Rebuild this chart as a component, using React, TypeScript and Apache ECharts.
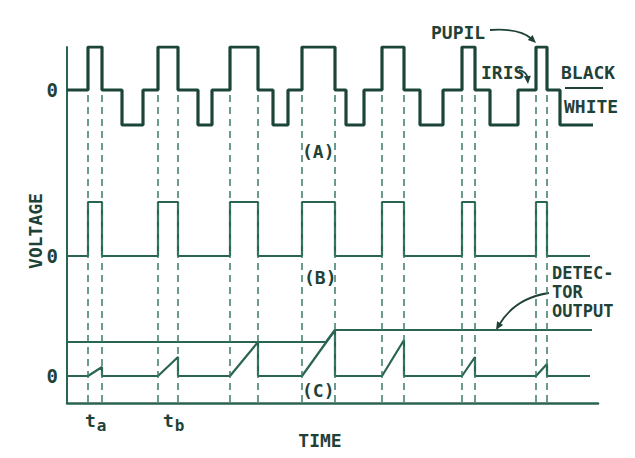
import React, { useEffect, useRef } from "react";
import * as echarts from "echarts";

// ---- data (time in arbitrary units, voltage in arbitrary units relative to each trace's zero) ----
const pulseStart = [21, 91, 163, 235, 315, 395, 469];
const pulseEnd = [35, 111, 191, 268, 337, 408, 480];
const whiteStart = [55, 131, 206, 279, 353, 423, 493];
const whiteEnd = [76, 145, 221, 297, 376, 451, 526];
const blackLevelA = 43;
const whiteLevelA = -35;
const traceEndA = 526;
const pulseLevelB = 54;
const traceEndB = 523;
const rampPeakC = [9, 19, 34, 46, 36, 19, 12];
const traceEndC = 523;
const detectorTimes = [0, 259, 268, 525];
const detectorValues = [34, 34, 46, 46];
const zeroTickLabels = ["0", "0", "0"];

// ---- layout ----
const W = 635;
const H = 458;
const baseA = 313;
const baseB = 147;
const baseC = 27;
const yMax = 356;
const xMax = 531;
const INK = "#1f4238";
const LINE = "#2a6453";
const FONT = "DejaVu Sans Mono";

function buildA() {
  const events: { t: number; v: number; end: number }[] = [];
  pulseStart.forEach((s, i) => events.push({ t: s, v: blackLevelA, end: pulseEnd[i] }));
  whiteStart.forEach((s, i) => events.push({ t: s, v: whiteLevelA, end: whiteEnd[i] }));
  events.sort((a, b) => a.t - b.t);
  const pts: number[][] = [[0, baseA]];
  events.forEach((e) => {
    pts.push([e.t, baseA]);
    pts.push([e.t, baseA + e.v]);
    pts.push([e.end, baseA + e.v]);
    if (e.end < traceEndA) pts.push([e.end, baseA]);
  });
  return pts;
}

function buildB() {
  const pts: number[][] = [[0, baseB]];
  pulseStart.forEach((s, i) => {
    pts.push([s, baseB], [s, baseB + pulseLevelB], [pulseEnd[i], baseB + pulseLevelB], [pulseEnd[i], baseB]);
  });
  pts.push([traceEndB, baseB]);
  return pts;
}

function buildC() {
  const pts: number[][] = [[0, baseC]];
  pulseStart.forEach((s, i) => {
    pts.push([s, baseC], [pulseEnd[i], baseC + rampPeakC[i]], [pulseEnd[i], baseC]);
  });
  pts.push([traceEndC, baseC]);
  return pts;
}

function arrow(x1: number, y1: number, cx: number, cy: number, x2: number, y2: number) {
  const dx = x2 - cx;
  const dy = y2 - cy;
  const len = Math.hypot(dx, dy) || 1;
  const ux = dx / len;
  const uy = dy / len;
  const L = 8;
  const hw = 3.5;
  const bx = x2 - ux * L;
  const by = y2 - uy * L;
  return [
    {
      type: "bezierCurve",
      shape: { x1, y1, cpx1: cx, cpy1: cy, x2: bx + ux * 2, y2: by + uy * 2 },
      style: { stroke: INK, lineWidth: 1.8, fill: null },
      silent: true,
    },
    {
      type: "polygon",
      shape: {
        points: [
          [x2, y2],
          [bx - uy * hw, by + ux * hw],
          [bx + uy * hw, by - ux * hw],
        ],
      },
      style: { fill: INK },
      silent: true,
    },
  ];
}

function txt(text: string, x: number, y: number, extra: any = {}, size = 18) {
  return {
    type: "text",
    x,
    y,
    silent: true,
    style: {
      text,
      fill: INK,
      font: `bold ${size}px '${FONT}'`,
      align: "left",
      verticalAlign: "middle",
      ...extra,
    },
  };
}

function subLabel(main: string, sub: string, x: number, y: number) {
  return {
    type: "text",
    x,
    y,
    silent: true,
    style: {
      text: `{m|${main}}{s|${sub}}`,
      align: "left",
      verticalAlign: "top",
      rich: {
        m: {
          fill: INK,
          fontFamily: FONT,
          fontWeight: "bold",
          fontSize: 18,
          lineHeight: 22,
          verticalAlign: "top",
        },
        s: {
          fill: INK,
          fontFamily: FONT,
          fontWeight: "bold",
          fontSize: 16,
          lineHeight: 22,
          verticalAlign: "bottom",
          padding: [8, 0, 0, 1],
        },
      },
    },
  };
}

export default function App() {
  const ref = useRef<HTMLDivElement>(null);
  useEffect(() => {
    if (!ref.current) return;
    const chart = echarts.init(ref.current, null, { renderer: "svg" });
    const edges: number[] = [];
    pulseStart.forEach((s, i) => edges.push(s, pulseEnd[i]));
    const voltage: any = txt("VOLTAGE", 35, 231, { align: "center", verticalAlign: "middle" });
    voltage.rotation = Math.PI / 2;
    const option: any = {
      animation: false,
      backgroundColor: "#ffffff",
      grid: { left: 67, right: W - 598, top: 47, bottom: H - 403 },
      xAxis: {
        type: "value",
        min: 0,
        max: xMax,
        axisLine: { show: true, lineStyle: { color: LINE, width: 2.5 } },
        axisTick: { show: false },
        axisLabel: { show: false },
        splitLine: { show: false },
      },
      yAxis: {
        type: "value",
        min: 0,
        max: yMax,
        axisLine: { show: true, lineStyle: { color: LINE, width: 2 } },
        axisTick: { show: false, customValues: [baseC, baseB, baseA] },
        axisLabel: {
          show: true,
          customValues: [baseC, baseB, baseA],
          formatter: (v: number) => {
            const idx = [baseC, baseB, baseA].indexOf(v);
            return idx >= 0 ? zeroTickLabels[idx] : "";
          },
          margin: 9,
          color: INK,
          fontFamily: FONT,
          fontWeight: "bold",
          fontSize: 19,
        },
        splitLine: { show: false },
      },
      series: [
        {
          type: "line",
          name: "A",
          data: buildA(),
          symbol: "none",
          lineStyle: { color: "#1b4539", width: 3.2 },
          z: 4,
        },
        {
          type: "line",
          name: "B",
          data: buildB(),
          symbol: "none",
          lineStyle: { color: LINE, width: 2.2 },
          z: 4,
        },
        {
          type: "line",
          name: "C",
          data: buildC(),
          symbol: "none",
          lineStyle: { color: LINE, width: 2.2 },
          z: 4,
          markLine: {
            silent: true,
            symbol: ["none", "none"],
            label: { show: false },
            lineStyle: { type: [7, 5], width: 1.5, color: "#3b7b69" },
            emphasis: { disabled: true },
            data: edges.map((t) => [
              { coord: [t, 1] },
              { coord: [t, baseA - 5] },
            ]),
          },
        },
        {
          type: "line",
          name: "Detector output",
          data: detectorTimes.map((t, i) => [t, baseC + detectorValues[i]]),
          symbol: "none",
          lineStyle: { color: LINE, width: 2.2 },
          z: 4,
        },
      ],
      graphic: [
        voltage,
        txt("TIME", 320, 440, { align: "center" }),
        txt("(A)", 302, 151),
        txt("(B)", 304, 277),
        txt("(C)", 302, 390),
        txt("PUPIL", 431, 32),
        txt("IRIS", 481, 72),
        txt("BLACK", 561, 72),
        txt("WHITE", 564, 106),
        txt("DETEC-", 552, 273, {}, 17),
        txt("TOR", 552, 292, {}, 17),
        txt("OUTPUT", 552, 311, {}, 17),
        subLabel("t", "a", 85, 411),
        subLabel("t", "b", 163, 411),
        {
          type: "line",
          shape: { x1: 565, y1: 88, x2: 603, y2: 88 },
          style: { stroke: INK, lineWidth: 2 },
          silent: true,
        },
        ...arrow(490, 30, 520, 28, 536, 43),
        ...arrow(519, 70, 527, 72, 528, 84),
        ...arrow(549, 293, 515, 298, 496, 330),
      ],
    };
    chart.setOption(option);
    return () => chart.dispose();
  }, []);
  return (
    <div
      ref={ref}
      style={{ position: "fixed", left: 0, top: 0, width: W, height: H, background: "#fff" }}
    />
  );
}
